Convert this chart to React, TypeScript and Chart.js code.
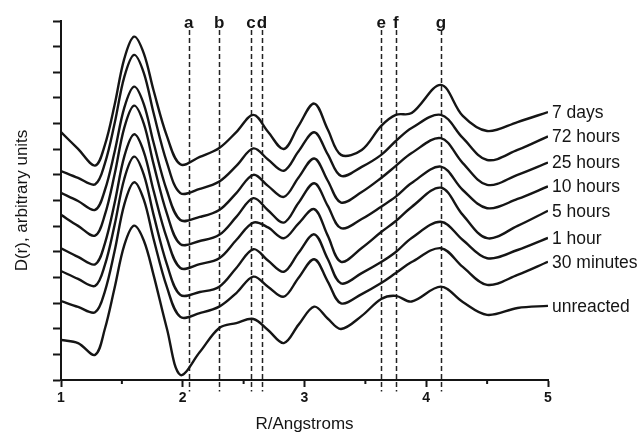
import React, { useEffect, useRef } from "react";
import { Chart, registerables } from "chart.js";

Chart.register(...registerables);

const FONT = "'Liberation Sans', Arial, Helvetica, sans-serif";

// R grid (Angstroms) shared by all series
const R = [1.0, 1.14, 1.28, 1.36, 1.44, 1.52, 1.6, 1.68, 1.76, 1.87, 1.98, 2.14, 2.3, 2.44, 2.58, 2.7, 2.83, 2.95, 3.08, 3.19, 3.3, 3.47, 3.63, 3.75, 3.88, 4.12, 4.3, 4.5, 4.75, 5.0];

const seriesNames = ["7 days", "72 hours", "25 hours", "10 hours", "5 hours", "1 hour", "30 minutes", "unreacted"];

const days7 = [9.67, 9.01, 8.36, 9.16, 10.72, 12.53, 13.39, 12.74, 11.3, 9.51, 8.41, 8.7, 9.05, 9.67, 10.34, 9.68, 9.01, 9.9, 10.78, 9.78, 8.78, 8.97, 9.91, 10.34, 10.41, 11.51, 10.3, 9.71, 10.06, 10.45];
const hours72 = [8.15, 7.88, 7.63, 8.44, 10.0, 11.82, 12.68, 11.98, 10.42, 8.48, 7.29, 7.45, 7.74, 8.35, 9.03, 8.6, 8.16, 8.91, 9.66, 8.81, 7.96, 8.31, 8.78, 9.32, 9.83, 10.34, 9.44, 8.58, 8.97, 9.5];
const hours25 = [7.3, 6.98, 6.63, 7.4, 8.89, 10.62, 11.44, 10.76, 9.26, 7.38, 6.24, 6.36, 6.63, 7.29, 8.0, 7.57, 7.14, 7.89, 8.64, 7.78, 6.92, 7.33, 7.88, 8.35, 8.85, 9.43, 8.46, 7.61, 8.0, 8.48];
const hours10 = [6.44, 6.01, 5.63, 6.44, 8.01, 9.84, 10.7, 10.0, 8.43, 6.49, 5.3, 5.42, 5.66, 6.36, 7.09, 6.62, 6.14, 6.9, 7.67, 6.8, 5.92, 6.28, 6.76, 7.15, 7.68, 8.32, 7.41, 6.7, 7.06, 7.55];
const hours5 = [5.14, 4.8, 4.51, 5.32, 6.89, 8.72, 9.58, 8.9, 7.39, 5.52, 4.37, 4.52, 4.75, 5.46, 6.14, 5.95, 5.53, 6.1, 6.66, 5.64, 4.61, 5.15, 5.77, 6.2, 6.75, 7.5, 6.44, 5.53, 6.01, 6.6];
const hour1 = [4.25, 3.94, 3.67, 4.48, 6.04, 7.85, 8.71, 8.01, 6.45, 4.51, 3.32, 3.43, 3.64, 4.37, 5.1, 4.66, 4.22, 4.95, 5.68, 4.73, 3.77, 4.17, 4.6, 4.99, 5.54, 6.17, 5.46, 4.75, 5.07, 5.54];
const minutes30 = [3.08, 2.85, 2.64, 3.45, 5.02, 6.85, 7.71, 7.03, 5.51, 3.62, 2.46, 2.61, 2.86, 3.39, 4.03, 3.64, 3.25, 3.98, 4.71, 3.85, 2.99, 3.35, 3.78, 4.17, 4.6, 5.14, 4.41, 3.71, 4.1, 4.61];
const unreacted = [1.56, 1.44, 0.98, 1.99, 3.59, 5.26, 6.02, 5.44, 4.1, 2.0, 0.2, 1.09, 2.03, 2.22, 2.38, 1.95, 1.44, 2.15, 2.86, 2.4, 1.99, 2.5, 3.16, 3.28, 3.06, 3.64, 3.04, 2.54, 2.81, 2.89];

const seriesValues = [days7, hours72, hours25, hours10, hours5, hour1, minutes30, unreacted];

// reference lines
const markerLabels = ["a", "b", "c", "d", "e", "f", "g"];
const markerR = [2.05, 2.3, 2.56, 2.65, 3.63, 3.75, 4.12];

const minorTicks = [1.5, 2.5, 3.5, 4.5];

const INK = "#151515";

const overlayPlugin = {
  id: "overlay",
  beforeDatasetsDraw(chart: any) {
    const { ctx, scales } = chart;
    const xs = scales.x;
    const ys = scales.y;
    ctx.save();
    ctx.strokeStyle = "#222";
    ctx.lineWidth = 1.5;
    ctx.setLineDash([5, 3]);
    const top = ys.getPixelForValue(13.65);
    const bottom = ys.getPixelForValue(-0.45);
    markerR.forEach((r) => {
      const x = Math.round(xs.getPixelForValue(r)) + 0.5;
      ctx.beginPath();
      ctx.moveTo(x, top);
      ctx.lineTo(x, bottom);
      ctx.stroke();
    });
    ctx.setLineDash([]);
    ctx.fillStyle = INK;
    ctx.font = `bold 17px ${FONT}`;
    ctx.textAlign = "center";
    ctx.textBaseline = "alphabetic";
    const ly = ys.getPixelForValue(14) + 6.5;
    markerR.forEach((r, i) => {
      ctx.fillText(markerLabels[i], xs.getPixelForValue(r), ly);
    });
    ctx.strokeStyle = INK;
    ctx.lineWidth = 2;
    const y0 = ys.getPixelForValue(0);
    minorTicks.forEach((r) => {
      const x = xs.getPixelForValue(r);
      ctx.beginPath();
      ctx.moveTo(x, y0);
      ctx.lineTo(x, y0 + 4);
      ctx.stroke();
    });
    ctx.restore();
  },
  afterDatasetsDraw(chart: any) {
    const { ctx } = chart;
    ctx.save();
    ctx.fillStyle = INK;
    ctx.font = `17.5px ${FONT}`;
    ctx.textAlign = "left";
    ctx.textBaseline = "middle";
    chart.data.datasets.forEach((ds: any, i: number) => {
      const meta = chart.getDatasetMeta(i);
      const pts = meta.data;
      const last = pts[pts.length - 1];
      ctx.fillText(ds.label, last.x + 4, last.y + 1);
    });
    ctx.restore();
  },
};

export default function App() {
  const canvasRef = useRef<HTMLCanvasElement | null>(null);

  useEffect(() => {
    const canvas = canvasRef.current;
    if (!canvas) return;
    Chart.defaults.font.family = FONT;
    const chart = new Chart(canvas, {
      type: "line",
      data: {
        datasets: seriesValues.map((vals, i) => ({
          label: seriesNames[i],
          data: R.map((x, j) => ({ x, y: vals[j] })),
          borderColor: INK,
          borderWidth: 2.4,
          pointRadius: 0,
          fill: false,
          tension: 0.35,
        })),
      },
      options: {
        animation: false,
        responsive: false,
        maintainAspectRatio: false,
        events: [],
        layout: { padding: { left: 0, top: 21, right: 91, bottom: 0 } },
        plugins: {
          legend: { display: false },
          tooltip: { enabled: false },
        },
        scales: {
          x: {
            type: "linear",
            min: 1,
            max: 5,
            ticks: {
              stepSize: 1,
              color: INK,
              padding: 3,
              font: { family: FONT, size: 14, weight: "bold" },
            },
            grid: {
              drawOnChartArea: false,
              drawTicks: true,
              tickLength: 7,
              tickWidth: 2,
              tickColor: INK,
            },
            border: { color: INK, width: 2 },
            title: {
              display: true,
              text: "R/Angstroms",
              color: INK,
              padding: 0,
              font: { family: FONT, size: 17 },
            },
            afterFit: (s: any) => {
              s.height = 55;
            },
          },
          y: {
            type: "linear",
            min: 0,
            max: 14,
            ticks: { stepSize: 1, display: false },
            grid: {
              drawOnChartArea: false,
              drawTicks: true,
              tickLength: 8,
              tickWidth: 2,
              tickColor: INK,
            },
            border: { color: INK, width: 2 },
            title: {
              display: true,
              text: "D(r), arbitrary units",
              color: INK,
              padding: { top: 12, bottom: 0 },
              font: { family: FONT, size: 17 },
            },
            afterFit: (s: any) => {
              s.width = 61;
            },
          },
        },
      },
      plugins: [overlayPlugin],
    });
    return () => chart.destroy();
  }, []);

  return (
    <div style={{ position: "fixed", left: 0, top: 0, width: 639, height: 435, background: "#fff" }}>
      <canvas ref={canvasRef} width={639} height={435} />
    </div>
  );
}
